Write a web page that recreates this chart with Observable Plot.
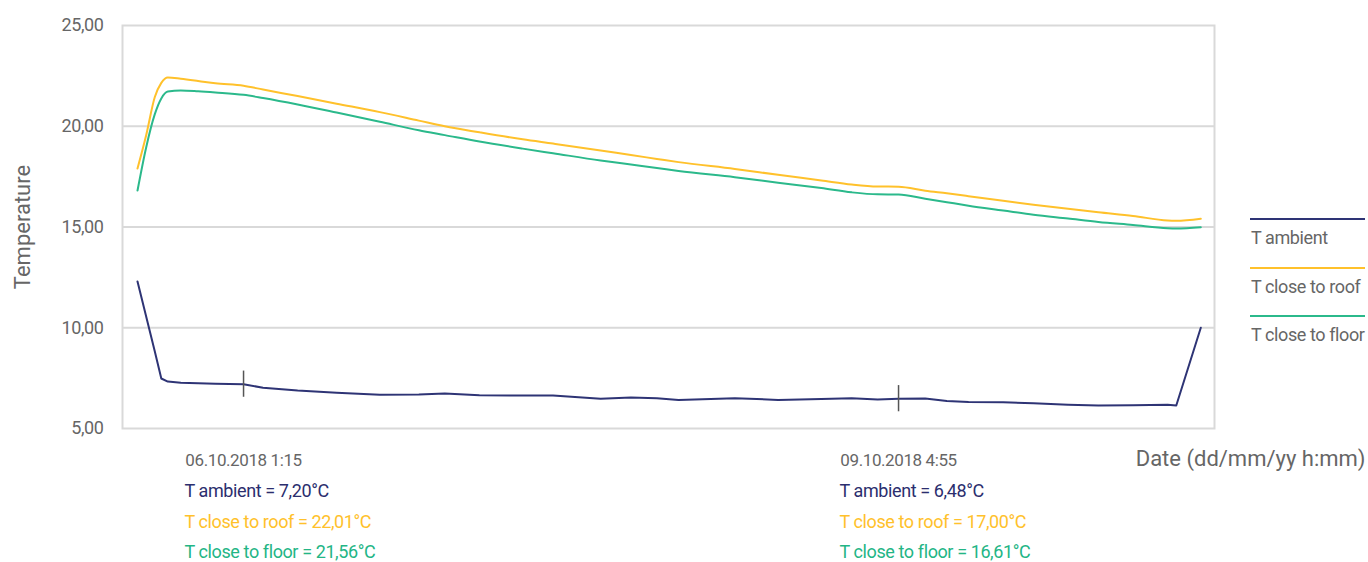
<!DOCTYPE html>
<html><head><meta charset="utf-8">
<script src="https://cdn.jsdelivr.net/npm/d3@7"></script>
<script src="https://cdn.jsdelivr.net/npm/@observablehq/plot@0.6"></script>
<style>
body{margin:0;background:#fff;}
#wrap{position:relative;width:1368px;height:562px;font-family:Roboto,sans-serif;}
#legend{position:absolute;left:0;top:0;}
.lline{position:absolute;left:1250px;width:115px;height:0;border-top:2px solid;}
.ltext{position:absolute;left:1251px;font-size:18px;letter-spacing:-0.4px;color:#666;line-height:24px;white-space:nowrap;}
</style></head><body>
<div id="wrap"><div id="chart"></div><div id="legend"></div></div>
<script>
// ---- data ----
const times = ["05.10.2018 13:00","05.10.2018 14:00","05.10.2018 15:00","05.10.2018 15:45","05.10.2018 16:30","05.10.2018 18:00","05.10.2018 20:00","05.10.2018 22:00","06.10.2018 01:15","06.10.2018 03:30","06.10.2018 07:30","06.10.2018 12:00","06.10.2018 17:00","06.10.2018 21:30","07.10.2018 00:30","07.10.2018 04:30","07.10.2018 09:30","07.10.2018 13:00","07.10.2018 18:30","07.10.2018 22:00","08.10.2018 01:00","08.10.2018 03:30","08.10.2018 10:00","08.10.2018 15:00","08.10.2018 20:00","08.10.2018 23:30","09.10.2018 02:30","09.10.2018 04:55","09.10.2018 08:00","09.10.2018 10:30","09.10.2018 13:00","09.10.2018 17:00","09.10.2018 20:30","10.10.2018 00:30","10.10.2018 04:00","10.10.2018 08:00","10.10.2018 12:00","10.10.2018 13:00","10.10.2018 15:50"];
const tAmbient = [12.30,10.56,8.82,7.48,7.33,7.27,7.24,7.22,7.20,7.02,6.88,6.77,6.68,6.69,6.74,6.65,6.64,6.64,6.48,6.54,6.50,6.42,6.50,6.42,6.47,6.50,6.44,6.48,6.49,6.37,6.31,6.30,6.25,6.18,6.14,6.16,6.18,6.14,10.00];
const tRoof = [17.90,19.55,21.45,22.15,22.42,22.36,22.25,22.13,22.01,21.82,21.50,21.12,20.70,20.28,20.00,19.70,19.35,19.14,18.80,18.57,18.38,18.22,17.88,17.59,17.31,17.11,17.01,17.00,16.80,16.67,16.53,16.30,16.11,15.90,15.73,15.55,15.32,15.31,15.41];
const tFloor = [16.81,18.95,20.60,21.38,21.72,21.78,21.74,21.68,21.56,21.40,21.08,20.68,20.22,19.80,19.56,19.24,18.89,18.66,18.30,18.10,17.93,17.78,17.47,17.20,16.93,16.72,16.62,16.61,16.40,16.23,16.06,15.82,15.61,15.42,15.25,15.10,14.94,14.93,14.99];
const seriesNames = ["T ambient","T close to roof","T close to floor"];
const seriesColors = ["#2e3475","#ffc12b","#2bb98b"];
const textColors = ["#2b2e6e","#ffc12b","#23b585"];
const markerTimes = ["06.10.2018 01:15","09.10.2018 04:55"];
const markerLabels = ["06.10.2018 1:15","09.10.2018 4:55"];
const yTicks = [5,10,15,20,25];
const xDomain = ["05.10.2018 11:16","10.10.2018 17:25"];
const yLabel = "Temperature";
const xLabel = "Date (dd/mm/yy h:mm)";

// ---- build ----
const parse = d3.utcParse("%d.%m.%Y %H:%M");
const fmt = v => v.toFixed(2).replace(".", ",");
const seriesValues = [tAmbient, tRoof, tFloor];
const rows = [];
seriesNames.forEach((name, k) => times.forEach((t, i) => rows.push({time: parse(t), value: seriesValues[k][i], series: name})));
const markers = markerTimes.map((t, j) => {
  const i = times.indexOf(t);
  return {time: parse(t), label: markerLabels[j], vals: seriesValues.map(s => s[i])};
});
const annots = [];
markers.forEach(m => seriesNames.forEach((n, k) => annots.push({time: m.time, k, text: `${n} = ${fmt(m.vals[k])}°C`})));
const FONT = "Roboto, sans-serif";

const chart = Plot.plot({
  width: 1368, height: 562,
  marginLeft: 122, marginRight: 154, marginTop: 25, marginBottom: 134,
  style: {fontFamily: FONT, fontSize: "18px", color: "#666", background: "#fff"},
  x: {type: "utc", domain: xDomain.map(parse), axis: null},
  y: {domain: [5, 25]},
  color: {domain: seriesNames, range: seriesColors},
  marks: [
    Plot.gridY(yTicks.slice(1, -1), {stroke: "#d9d9d9", strokeWidth: 2, strokeOpacity: 1}),
    Plot.frame({stroke: "#d9d9d9", strokeWidth: 2}),
    Plot.lineY(rows.filter(r => r.series !== seriesNames[0]), {x: "time", y: "value", stroke: "series", strokeWidth: 2, curve: "monotone-x"}),
    Plot.lineY(rows.filter(r => r.series === seriesNames[0]), {x: "time", y: "value", stroke: "series", strokeWidth: 2, curve: "linear"}),
    Plot.ruleX(markers, {x: "time", y1: d => d.vals[0] - 0.65, y2: d => d.vals[0] + 0.65, stroke: "#555", strokeWidth: 1.5}),
    Plot.axisY({ticks: yTicks, tickFormat: fmt, tickSize: 0, tickPadding: 19, fontSize: 18, fill: "#666", label: null}),
    Plot.text([yLabel], {frameAnchor: "left", textAnchor: "middle", lineAnchor: "middle", dx: -100, rotate: -90, fontSize: 22, fill: "#666"}),
    Plot.text([xLabel], {frameAnchor: "bottom-right", textAnchor: "end", lineAnchor: "middle", dx: 151, dy: 30, fontSize: 22, fill: "#666"}),
    Plot.text(markers, {x: "time", text: "label", frameAnchor: "bottom", lineAnchor: "middle", dy: 32, fontSize: 17, letterSpacing: -0.4, fill: "#666", style: {letterSpacing: "-0.4px"}}),
    ...seriesNames.map((n, k) => Plot.text(annots.filter(a => a.k === k), {x: "time", text: "text", frameAnchor: "bottom", textAnchor: "start", lineAnchor: "middle", dx: -59, dy: 63 + k * 30.5, fontSize: 18, fill: textColors[k]}))
  ]
});
chart.querySelectorAll("text").forEach(t => {
  const fs = parseFloat(t.closest("[font-size]")?.getAttribute("font-size") || "18");
  if (fs <= 18) t.style.letterSpacing = "-0.4px";
});
document.getElementById("chart").append(chart);

// legend
const lg = document.getElementById("legend");
seriesNames.forEach((n, k) => {
  const line = document.createElement("div");
  line.className = "lline";
  line.style.top = (218 + k * 48.5) + "px";
  line.style.borderColor = seriesColors[k];
  lg.append(line);
  const t = document.createElement("div");
  t.className = "ltext";
  t.style.top = (226 + k * 48.5) + "px";
  t.textContent = n;
  lg.append(t);
});
</script>
</body></html>
